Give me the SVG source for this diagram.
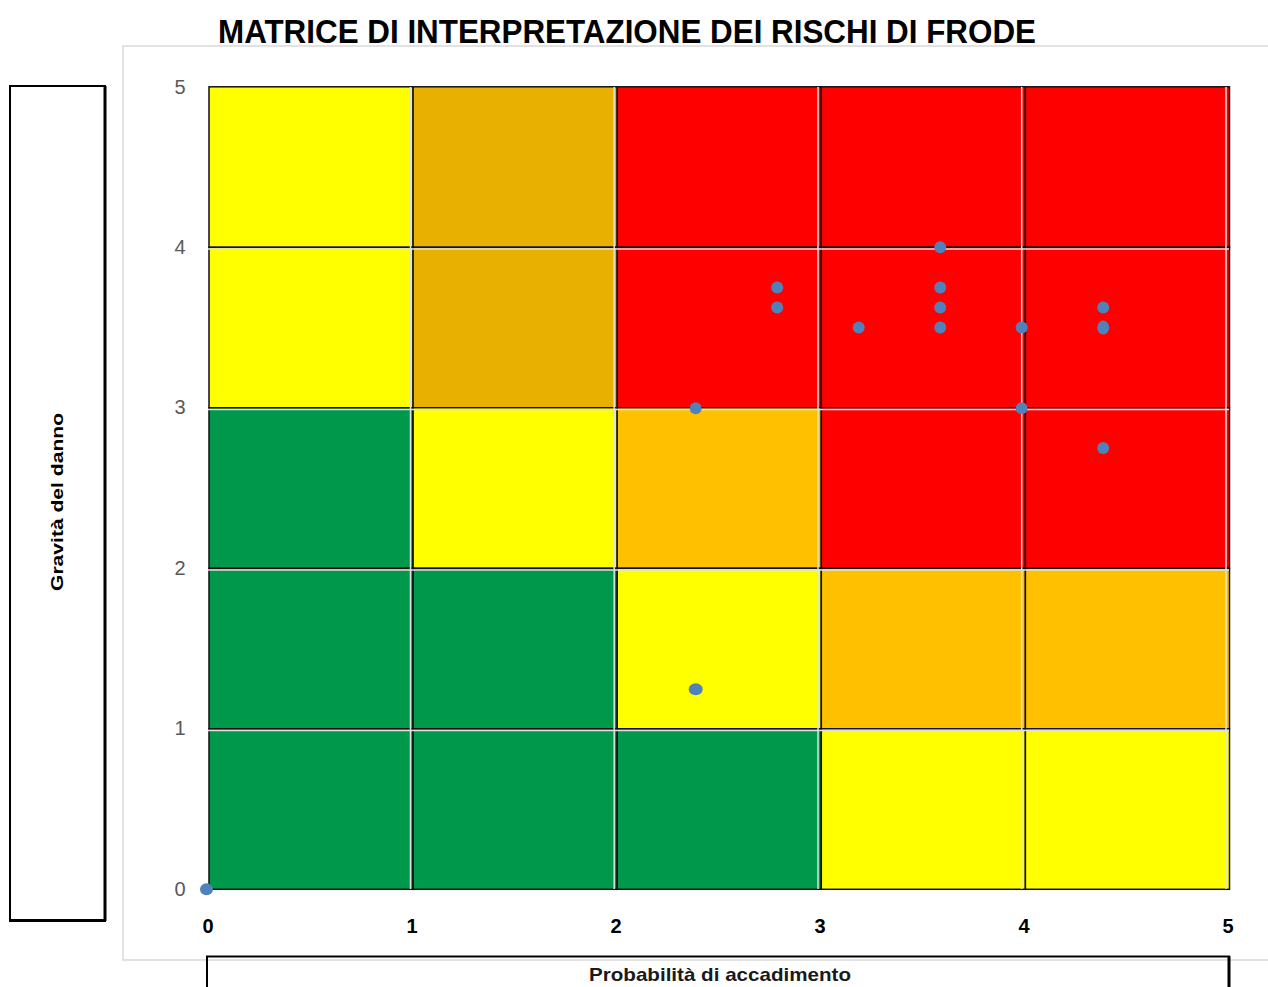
<svg xmlns="http://www.w3.org/2000/svg" width="1268" height="987" viewBox="0 0 1268 987">
<style>
.ytick{font-family:"Liberation Sans",Arial,sans-serif;font-size:20px;fill:#595959;text-anchor:middle}
.xtick{font-family:"Liberation Sans",Arial,sans-serif;font-size:20px;font-weight:bold;fill:#000;text-anchor:middle}
.cell{stroke:#111;stroke-width:1.5}
.grid{stroke:#e0e0e0;stroke-width:1.5}
.dot{fill:#4F81BD}
.Y{fill:#FFFF00}.G{fill:#E8B000}.O{fill:#FFC000}.R{fill:#FF0000}.V{fill:#00984A}
</style>
<rect width="1268" height="987" fill="#fff"/>
<g id="title"><text x="218" y="43" font-family="Liberation Sans,Arial,sans-serif" font-size="33" font-weight="bold" textLength="818" lengthAdjust="spacingAndGlyphs">MATRICE DI INTERPRETAZIONE DEI RISCHI DI FRODE</text></g>
<g id="chart-area"><rect x="123" y="46" width="1150" height="914" fill="none" stroke="#d9d9d9" stroke-width="1.5"/></g>
<g id="y-axis-title">
<rect x="10" y="86" width="95" height="834" fill="none" stroke="#000" stroke-width="2"/>
<line x1="105" y1="86" x2="105" y2="921" stroke="#000" stroke-width="3"/>
<line x1="9" y1="920.5" x2="106" y2="920.5" stroke="#000" stroke-width="3"/>
<text transform="translate(63,502) rotate(-90)" text-anchor="middle" font-family="Liberation Sans,Arial,sans-serif" font-size="16" font-weight="bold" textLength="178" lengthAdjust="spacingAndGlyphs">Gravità del danno</text>
</g>
<g id="x-axis-title">
<path d="M207,987 V956.5 H1229 V987" fill="none" stroke="#000" stroke-width="2"/>
<line x1="1229" y1="956" x2="1229" y2="987" stroke="#000" stroke-width="3"/>
<text x="720" y="981" text-anchor="middle" font-family="Liberation Sans,Arial,sans-serif" font-size="19" font-weight="bold" textLength="262" lengthAdjust="spacingAndGlyphs" fill="#1a1a1a">Probabilità di accadimento</text>
</g>
<g id="matrix">
<rect class="cell Y" x="209" y="86.8" width="204.1" height="160.5"/>
<rect class="cell G" x="413.1" y="86.8" width="204.1" height="160.5"/>
<rect class="cell R" x="617.2" y="86.8" width="204.1" height="160.5"/>
<rect class="cell R" x="821.3" y="86.8" width="204.1" height="160.5"/>
<rect class="cell R" x="1025.4" y="86.8" width="204.1" height="160.5"/>
<rect class="cell Y" x="209" y="247.3" width="204.1" height="160.5"/>
<rect class="cell G" x="413.1" y="247.3" width="204.1" height="160.5"/>
<rect class="cell R" x="617.2" y="247.3" width="204.1" height="160.5"/>
<rect class="cell R" x="821.3" y="247.3" width="204.1" height="160.5"/>
<rect class="cell R" x="1025.4" y="247.3" width="204.1" height="160.5"/>
<rect class="cell V" x="209" y="407.8" width="204.1" height="160.5"/>
<rect class="cell Y" x="413.1" y="407.8" width="204.1" height="160.5"/>
<rect class="cell O" x="617.2" y="407.8" width="204.1" height="160.5"/>
<rect class="cell R" x="821.3" y="407.8" width="204.1" height="160.5"/>
<rect class="cell R" x="1025.4" y="407.8" width="204.1" height="160.5"/>
<rect class="cell V" x="209" y="568.3" width="204.1" height="160.5"/>
<rect class="cell V" x="413.1" y="568.3" width="204.1" height="160.5"/>
<rect class="cell Y" x="617.2" y="568.3" width="204.1" height="160.5"/>
<rect class="cell O" x="821.3" y="568.3" width="204.1" height="160.5"/>
<rect class="cell O" x="1025.4" y="568.3" width="204.1" height="160.5"/>
<rect class="cell V" x="209" y="728.8" width="204.1" height="160.5"/>
<rect class="cell V" x="413.1" y="728.8" width="204.1" height="160.5"/>
<rect class="cell V" x="617.2" y="728.8" width="204.1" height="160.5"/>
<rect class="cell Y" x="821.3" y="728.8" width="204.1" height="160.5"/>
<rect class="cell Y" x="1025.4" y="728.8" width="204.1" height="160.5"/>
</g>
<g id="gridlines">
<line class="grid" x1="410.5" y1="87" x2="410.5" y2="889"/>
<line class="grid" x1="614.2" y1="87" x2="614.2" y2="889"/>
<line class="grid" x1="818" y1="87" x2="818" y2="889"/>
<line class="grid" x1="1021.7" y1="87" x2="1021.7" y2="889"/>
<line class="grid" x1="1226" y1="87" x2="1226" y2="889"/>
<line class="grid" x1="208" y1="249" x2="1229" y2="249"/>
<line class="grid" x1="208" y1="409.5" x2="1229" y2="409.5"/>
<line class="grid" x1="208" y1="570" x2="1229" y2="570"/>
<line class="grid" x1="208" y1="730.5" x2="1229" y2="730.5"/>
</g>
<g id="y-ticks">
<text class="ytick" x="180" y="896">0</text>
<text class="ytick" x="180" y="735">1</text>
<text class="ytick" x="180" y="575">2</text>
<text class="ytick" x="180" y="414">3</text>
<text class="ytick" x="180" y="254">4</text>
<text class="ytick" x="180" y="94">5</text>
</g>
<g id="x-ticks">
<text class="xtick" x="208" y="933">0</text>
<text class="xtick" x="412" y="933">1</text>
<text class="xtick" x="616" y="933">2</text>
<text class="xtick" x="820" y="933">3</text>
<text class="xtick" x="1024" y="933">4</text>
<text class="xtick" x="1228" y="933">5</text>
</g>
<g id="data-points">
<ellipse class="dot" cx="206.5" cy="889.3" rx="6.5" ry="6"/>
<circle class="dot" cx="695.7" cy="408.3" r="6"/>
<ellipse class="dot" cx="695.7" cy="689.3" rx="7" ry="6"/>
<circle class="dot" cx="777.2" cy="287.4" r="6"/>
<circle class="dot" cx="777.2" cy="307.4" r="6"/>
<circle class="dot" cx="858.7" cy="327.6" r="6"/>
<circle class="dot" cx="940.2" cy="247.3" r="6"/>
<circle class="dot" cx="940.2" cy="287.4" r="6"/>
<circle class="dot" cx="940.2" cy="307.4" r="6"/>
<circle class="dot" cx="940.2" cy="327.6" r="6"/>
<circle class="dot" cx="1021.7" cy="327.6" r="6"/>
<circle class="dot" cx="1021.7" cy="408.3" r="6"/>
<circle class="dot" cx="1103.2" cy="307.4" r="6"/>
<ellipse class="dot" cx="1103.2" cy="327.6" rx="6" ry="7"/>
<circle class="dot" cx="1103.2" cy="447.9" r="6"/>
</g>
</svg>
